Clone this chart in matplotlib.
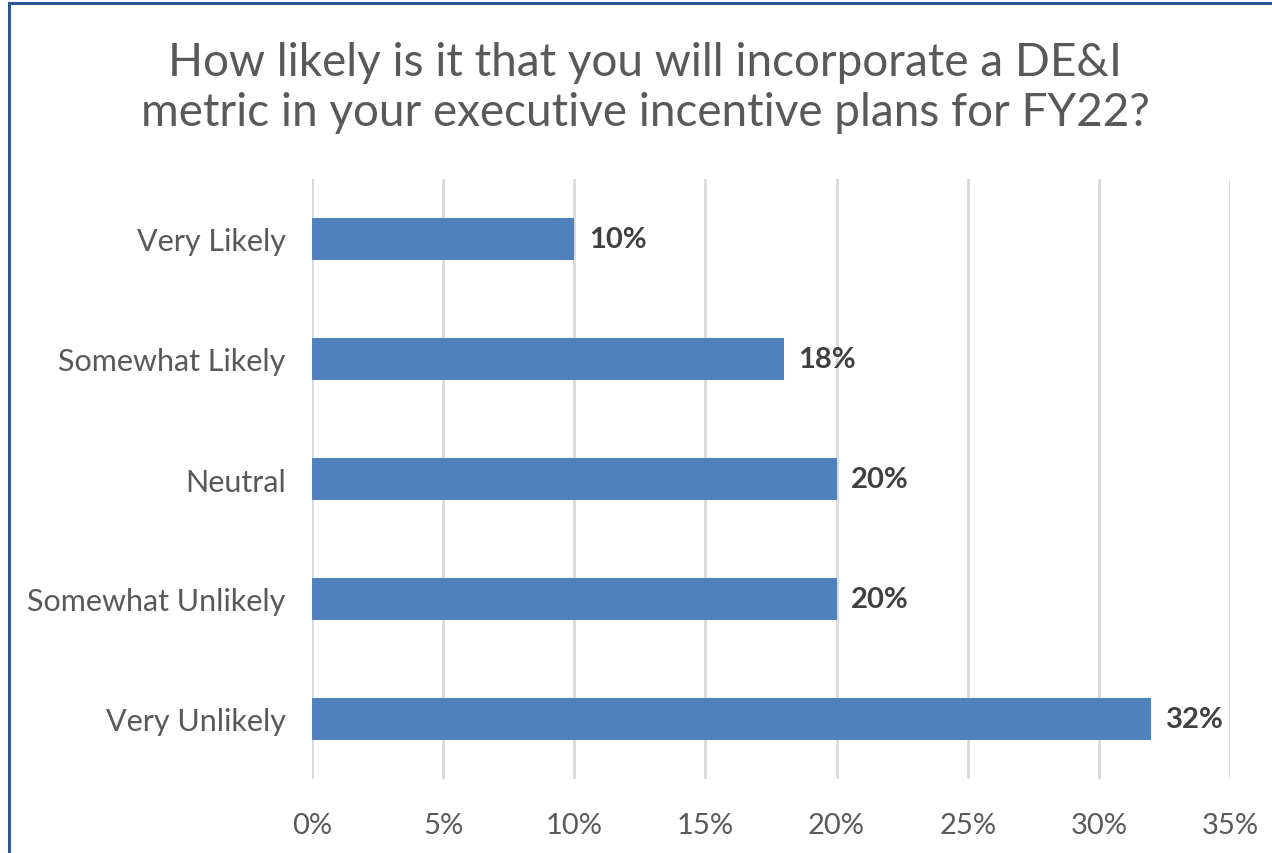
import matplotlib.pyplot as plt
from matplotlib.lines import Line2D
from matplotlib.ticker import FuncFormatter

plt.rcParams['font.family'] = ['Lato', 'DejaVu Sans']

# survey responses, top to bottom
responses = ['Very Likely', 'Somewhat Likely', 'Neutral', 'Somewhat Unlikely', 'Very Unlikely']
shares = [10, 18, 20, 20, 32]
x_ticks = [0, 5, 10, 15, 20, 25, 30, 35]

title = 'How likely is it that you will incorporate a DE&I\nmetric in your executive incentive plans for FY22?'

fig = plt.figure(figsize=(12.72, 8.54), dpi=100)
ax = fig.add_axes([312 / 1272, 74 / 854, 918 / 1272, 600 / 854])

ypos = list(range(len(responses)))
ax.barh(ypos, shares, height=0.35, color='#4F81BD', zorder=3)

for y, v in zip(ypos, shares):
    ax.text(v + 0.55, y, '%d%%' % v, va='center', ha='left', fontsize=21,
            fontweight='bold', color='#404040', zorder=4)

ax.set_xlim(0, 35)
ax.set_ylim(len(responses) - 0.5, -0.5)
ax.set_xticks(x_ticks)
ax.xaxis.set_major_formatter(FuncFormatter(lambda v, p: '%d%%' % v))
ax.set_yticks(ypos)
ax.set_yticklabels(responses)
ax.tick_params(axis='both', length=0, labelcolor='#595959')
ax.tick_params(axis='y', pad=19, labelsize=22)
ax.tick_params(axis='x', pad=24, labelsize=21)
ax.grid(axis='x', color='#D9D9D9', linewidth=2, zorder=0)
for s in ax.spines.values():
    s.set_visible(False)

fig.text(645 / 1272, 1 - 88 / 854, title, ha='center', va='center',
         fontsize=33, color='#595959', linespacing=1.25)

# outer frame (left and top edges only visible)
fig.add_artist(Line2D([9 / 1272, 9 / 1272], [0, 1 - 4 / 854], color='#2F5597', linewidth=2.2,
                      transform=fig.transFigure))
fig.add_artist(Line2D([9 / 1272, 1], [1 - 4 / 854, 1 - 4 / 854], color='#2F5597', linewidth=2.2,
                      transform=fig.transFigure))

plt.savefig('out.png', dpi=100)
